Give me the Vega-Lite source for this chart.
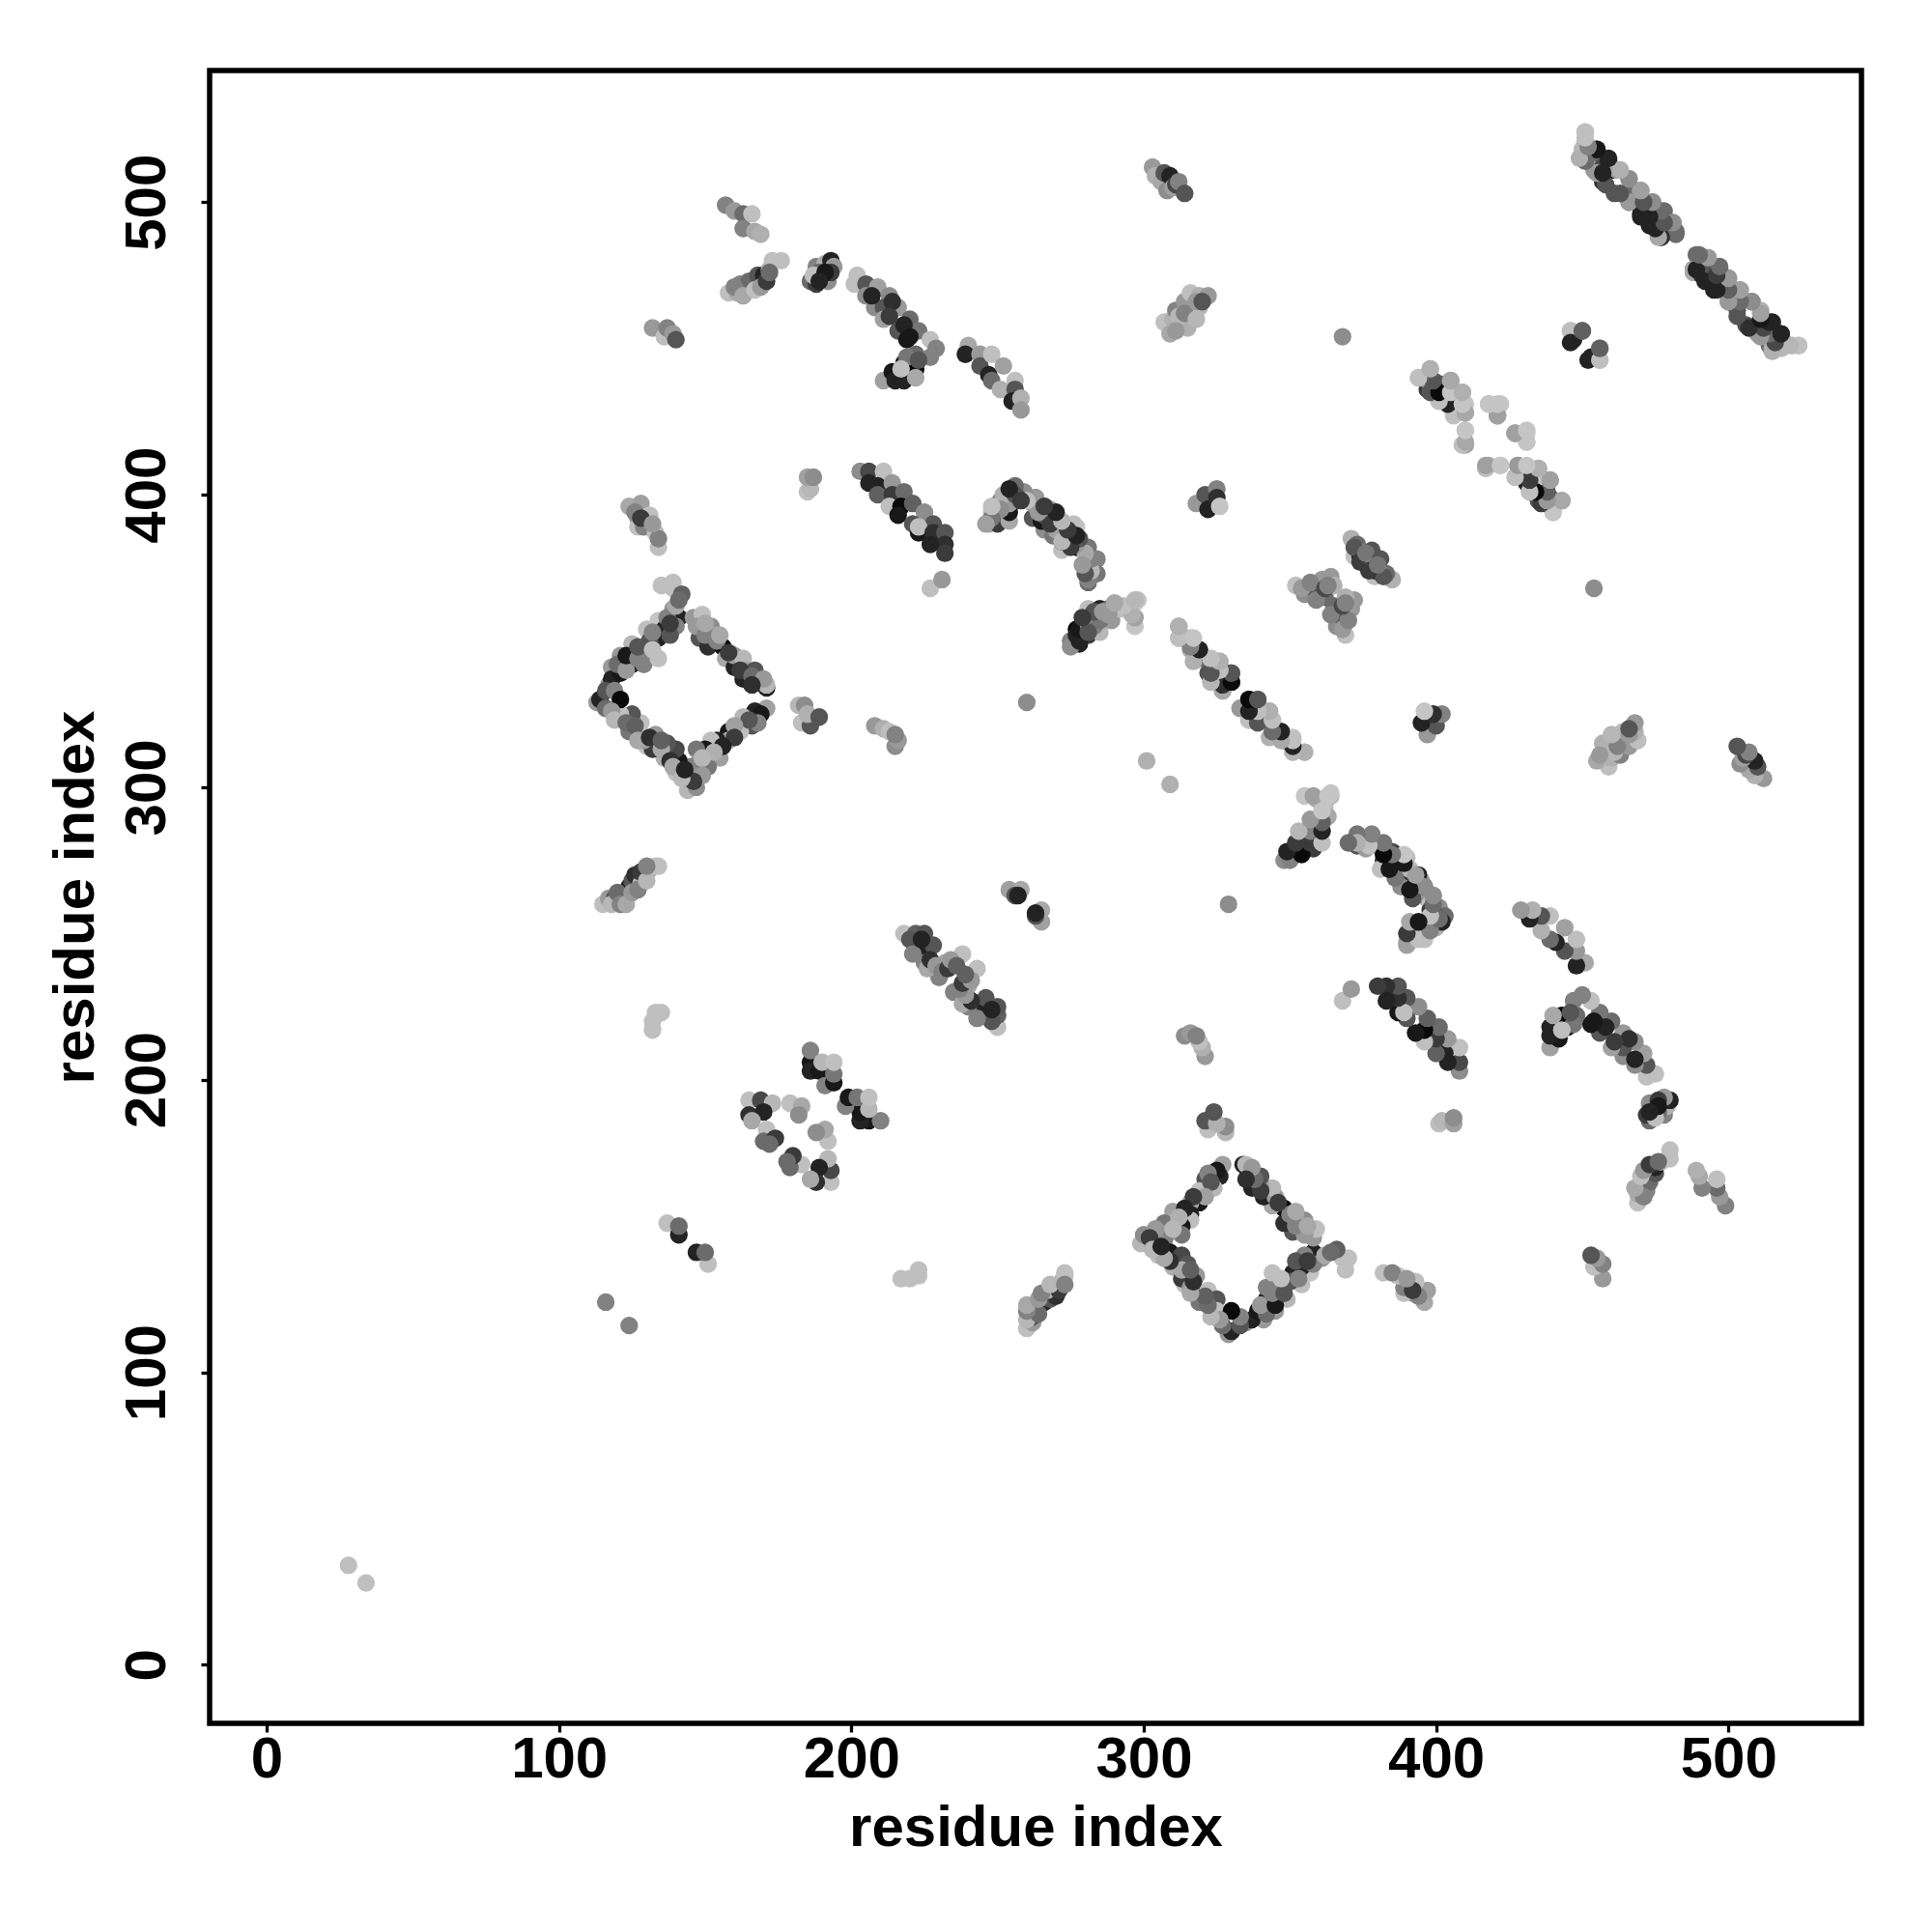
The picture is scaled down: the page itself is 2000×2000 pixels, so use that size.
{"$schema":"https://vega.github.io/schema/vega-lite/v6.json","width":1710,"height":1711,"autosize":"none","padding":{"left":217,"top":73,"right":73,"bottom":216},"background":"white",
"view":{"stroke":"#000","strokeWidth":5.5},
"config":{"font":"Liberation Sans"},
"datasets":{"contacts":[
{"i":28,"j":34,"s":0.85},{"i":116,"j":124,"s":0.5},
{"i":115,"j":260,"s":0.85},{"i":117,"j":262,"s":0.6},{"i":119,"j":262,"s":0.3},{"i":122,"j":261,"s":0.65},{"i":123,"j":263,"s":0.45},{"i":124,"j":266,"s":0.1},{"i":125,"j":268,"s":0.3},{"i":126,"j":270,"s":0.15},{"i":128,"j":267,"s":0.75},{"i":129,"j":271,"s":0.55},{"i":131,"j":272,"s":0.7},{"i":133,"j":273,"s":0.85},{"i":134,"j":273,"s":0.85},{"i":118,"j":260,"s":0.8},{"i":120,"j":264,"s":0.4},{"i":121,"j":260,"s":0.5},{"i":123,"j":260,"s":0.7},{"i":125,"j":264,"s":0.6},{"i":127,"j":265,"s":0.5},{"i":128,"j":271,"s":0.2},{"i":130,"j":268,"s":0.8},{"i":130,"j":273,"s":0.5},
{"i":132,"j":217,"s":0.85},{"i":132,"j":220,"s":0.85},{"i":133,"j":223,"s":0.85},{"i":135,"j":223,"s":0.85},
{"i":137,"j":151,"s":0.85},{"i":141,"j":147,"s":0.1},{"i":141,"j":150,"s":0.4},
{"i":113,"j":329,"s":0.6},{"i":114,"j":330,"s":0.1},{"i":116,"j":327,"s":0.4},{"i":117,"j":335,"s":0.6},{"i":118,"j":341,"s":0.6},{"i":118,"j":337,"s":0.1},{"i":121,"j":339,"s":0.05},{"i":121,"j":345,"s":0.6},{"i":125,"j":342,"s":0.05},{"i":125,"j":349,"s":0.8},{"i":129,"j":346,"s":0.1},{"i":129,"j":342,"s":0.5},{"i":130,"j":354,"s":0.85},{"i":134,"j":357,"s":0.9},{"i":134,"j":344,"s":0.85},{"i":134,"j":351,"s":0.1},{"i":136,"j":354,"s":0.1},{"i":139,"j":361,"s":0.6},{"i":141,"j":358,"s":0.1},{"i":140,"j":355,"s":0.5},{"i":135,"j":369,"s":0.85},{"i":139,"j":370,"s":0.85},{"i":139,"j":368,"s":0.85},{"i":142,"j":366,"s":0.35},
{"i":116,"j":333,"s":0.3},{"i":119,"j":333,"s":0.5},{"i":120,"j":342,"s":0.4},{"i":123,"j":340,"s":0.6},{"i":123,"j":345,"s":0.05},{"i":127,"j":344,"s":0.5},{"i":127,"j":348,"s":0.3},{"i":131,"j":350,"s":0.3},{"i":132,"j":347,"s":0.85},{"i":132,"j":353,"s":0.5},{"i":137,"j":358,"s":0.5},{"i":138,"j":352,"s":0.3},{"i":138,"j":356,"s":0.2},{"i":140,"j":362,"s":0.7},{"i":141,"j":364,"s":0.4},
{"i":146,"j":358,"s":0.6},{"i":149,"j":359,"s":0.85},{"i":148,"j":351,"s":0.3},{"i":152,"j":355,"s":0.55},{"i":153,"j":352,"s":0.65},{"i":151,"j":348,"s":0.15},{"i":156,"j":348,"s":0},{"i":157,"j":344,"s":0.7},{"i":160,"j":341,"s":0.1},{"i":160,"j":345,"s":0.6},{"i":163,"j":344,"s":0.8},{"i":163,"j":337,"s":0.1},{"i":164,"j":340,"s":0.65},{"i":167,"j":340,"s":0.3},{"i":168,"j":336,"s":0.85},{"i":171,"j":334,"s":0.1},{"i":171,"j":335,"s":0.8},
{"i":147,"j":355,"s":0.6},{"i":150,"j":352,"s":0.5},{"i":150,"j":356,"s":0.7},{"i":154,"j":350,"s":0.5},{"i":155,"j":352,"s":0.7},{"i":158,"j":346,"s":0.2},{"i":162,"j":340,"s":0.2},{"i":166,"j":338,"s":0.4},{"i":170,"j":337,"s":0.6},{"i":166,"j":335,"s":0.15},
{"i":171,"j":327,"s":0.65},{"i":167,"j":326,"s":0.1},{"i":169,"j":325,"s":0.05},{"i":166,"j":321,"s":0.3},{"i":163,"j":324,"s":0.8},{"i":162,"j":319,"s":0.85},{"i":158,"j":319,"s":0.05},{"i":158,"j":316,"s":0.7},{"i":154,"j":316,"s":0.1},{"i":152,"j":316,"s":0.85},{"i":155,"j":310,"s":0.65},{"i":150,"j":313,"s":0.05},{"i":147,"j":313,"s":0.45},{"i":151,"j":307,"s":0.45},{"i":148,"j":309,"s":0.6},{"i":145,"j":307,"s":0.5},{"i":144,"j":299,"s":0.8},{"i":147,"j":300,"s":0.55},
{"i":168,"j":322,"s":0.5},{"i":165,"j":323,"s":0.3},{"i":160,"j":321,"s":0.65},{"i":160,"j":317,"s":0.2},{"i":156,"j":314,"s":0.1},{"i":153,"j":312,"s":0.75},{"i":149,"j":310,"s":0.8},{"i":146,"j":304,"s":0.55},{"i":149,"j":304,"s":0.6},{"i":143,"j":303,"s":0.7},{"i":146,"j":302,"s":0.2},
{"i":140,"j":305,"s":0.85},{"i":141,"j":309,"s":0.05},{"i":136,"j":310,"s":0.75},{"i":140,"j":313,"s":0.25},{"i":137,"j":315,"s":0.3},{"i":130,"j":314,"s":0.85},{"i":133,"j":318,"s":0.6},{"i":132,"j":313,"s":0.2},{"i":127,"j":318,"s":0.5},{"i":128,"j":322,"s":0.85},{"i":129,"j":316,"s":0.6},{"i":124,"j":319,"s":0.45},{"i":125,"j":325,"s":0.3},{"i":121,"j":325,"s":0.85},{"i":121,"j":330,"s":0},
{"i":118,"j":326,"s":0.6},{"i":119,"j":323,"s":0.8},{"i":123,"j":322,"s":0.4},{"i":126,"j":321,"s":0.35},{"i":127,"j":316,"s":0.7},{"i":131,"j":317,"s":0.15},{"i":135,"j":313,"s":0.7},{"i":135,"j":316,"s":0.35},{"i":138,"j":309,"s":0.15},{"i":139,"j":307,"s":0.7},{"i":142,"j":303,"s":0.8},{"i":143,"j":306,"s":0.1},
{"i":182,"j":328,"s":0.8},{"i":184,"j":328,"s":0.55},{"i":183,"j":322,"s":0.85},{"i":186,"j":321,"s":0.3},{"i":185,"j":325,"s":0.75},{"i":189,"j":324,"s":0.3},
{"i":185,"j":401,"s":0.85},{"i":186,"j":402,"s":0.8},{"i":185,"j":406,"s":0.65},{"i":187,"j":406,"s":0.55},
{"i":157,"j":499,"s":0.5},{"i":160,"j":497,"s":0.6},{"i":163,"j":496,"s":0.4},{"i":163,"j":491,"s":0.5},{"i":167,"j":490,"s":0.7},{"i":169,"j":489,"s":0.75},{"i":166,"j":496,"s":0.85},
{"i":158,"j":469,"s":0.85},{"i":161,"j":469,"s":0.7},{"i":162,"j":472,"s":0.5},{"i":164,"j":470,"s":0.8},{"i":166,"j":472,"s":0.5},{"i":168,"j":473,"s":0.5},{"i":165,"j":473,"s":0.4},{"i":168,"j":475,"s":0.3},{"i":170,"j":475,"s":0.1},{"i":172,"j":477,"s":0.8},{"i":173,"j":480,"s":0.85},{"i":176,"j":480,"s":0.85},{"i":160,"j":471,"s":0.5},{"i":163,"j":468,"s":0.7},{"i":167,"j":470,"s":0.85},{"i":169,"j":471,"s":0.6},{"i":171,"j":473,"s":0.2},{"i":172,"j":476,"s":0.4},
{"i":132,"j":457,"s":0.6},{"i":136,"j":454,"s":0.85},{"i":137,"j":457,"s":0.5},{"i":139,"j":455,"s":0.6},{"i":140,"j":453,"s":0.3},
{"i":124,"j":396,"s":0.7},{"i":128,"j":397,"s":0.65},{"i":127,"j":392,"s":0.6},{"i":130,"j":391,"s":0.7},{"i":131,"j":393,"s":0.85},{"i":127,"j":389,"s":0.85},{"i":129,"j":389,"s":0.5},{"i":134,"j":382,"s":0.85},{"i":133,"j":387,"s":0.85},{"i":134,"j":385,"s":0.5},{"i":126,"j":394,"s":0.5},{"i":128,"j":392,"s":0.2},{"i":132,"j":390,"s":0.6},
{"i":186,"j":206,"s":0.05},{"i":186,"j":203,"s":0.1},{"i":186,"j":210,"s":0.5},{"i":189,"j":203,"s":0.05},{"i":190,"j":206,"s":0.8},{"i":191,"j":198,"s":0.5},{"i":194,"j":199,"s":0.05},{"i":194,"j":202,"s":0.45},{"i":194,"j":206,"s":0.85},
{"i":179,"j":192,"s":0.85},{"i":183,"j":191,"s":0.7},{"i":182,"j":188,"s":0.55},
{"i":165,"j":193,"s":0.85},{"i":169,"j":193,"s":0.25},{"i":173,"j":192,"s":0.8},{"i":165,"j":188,"s":0.15},{"i":170,"j":189,"s":0.1},{"i":166,"j":186,"s":0.7},{"i":171,"j":183,"s":0.85},{"i":170,"j":179,"s":0.4},{"i":174,"j":180,"s":0.2},{"i":172,"j":178,"s":0.4},
{"i":202,"j":475,"s":0.85},{"i":201,"j":472,"s":0.85},{"i":205,"j":472,"s":0.3},{"i":205,"j":468,"s":0.55},{"i":209,"j":471,"s":0.65},{"i":208,"j":464,"s":0.55},{"i":213,"j":468,"s":0.55},{"i":211,"j":464,"s":0.3},{"i":211,"j":460,"s":0.65},{"i":216,"j":464,"s":0.6},{"i":216,"j":456,"s":0.3},{"i":220,"j":460,"s":0.4},{"i":219,"j":453,"s":0.05},{"i":223,"j":456,"s":0.45},{"i":222,"j":448,"s":0.4},{"i":227,"j":447,"s":0.5},{"i":227,"j":453,"s":0.85},{"i":229,"j":450,"s":0.5},{"i":214,"j":466,"s":0.15},{"i":218,"j":458,"s":0.1},{"i":207,"j":468,"s":0.1},{"i":213,"j":461,"s":0.2},{"i":220,"j":454,"s":0.05},
{"i":211,"j":439,"s":0.65},{"i":214,"j":442,"s":0.05},{"i":215,"j":439,"s":0.1},{"i":218,"j":439,"s":0.1},{"i":218,"j":445,"s":0.05},{"i":222,"j":443,"s":0},{"i":222,"j":440,"s":0.7},{"i":219,"j":447,"s":0.45},{"i":223,"j":446,"s":0.3},{"i":217,"j":443,"s":0.85},
{"i":186,"j":473,"s":0.4},{"i":188,"j":472,"s":0.2},{"i":188,"j":478,"s":0.5},{"i":190,"j":475,"s":0.75},{"i":192,"j":473,"s":0.55},{"i":191,"j":479,"s":0.75},{"i":193,"j":480,"s":0.1},{"i":194,"j":478,"s":0.6},{"i":189,"j":476,"s":0.4},{"i":187,"j":475,"s":0.85},{"i":193,"j":476,"s":0.2},{"i":191,"j":476,"s":0.05},{"i":189,"j":473,"s":0.1},
{"i":240,"j":451,"s":0.7},{"i":239,"j":448,"s":0.1},{"i":244,"j":448,"s":0.6},{"i":244,"j":444,"s":0.3},{"i":248,"j":448,"s":0.85},{"i":247,"j":441,"s":0.1},{"i":252,"j":444,"s":0.65},{"i":248,"j":439,"s":0.4},{"i":251,"j":436,"s":0.75},{"i":256,"j":439,"s":0.85},{"i":256,"j":436,"s":0.3},{"i":255,"j":432,"s":0.1},{"i":258,"j":433,"s":0.75},{"i":258,"j":429,"s":0.6},
{"i":303,"j":512,"s":0.6},{"i":304,"j":509,"s":0.75},{"i":306,"j":507,"s":0.7},{"i":308,"j":504,"s":0.55},{"i":307,"j":510,"s":0.3},{"i":309,"j":509,"s":0.1},{"i":310,"j":505,"s":0.65},{"i":311,"j":506,"s":0.25},{"i":312,"j":507,"s":0.5},{"i":314,"j":503,"s":0.3},
{"i":307,"j":459,"s":0.85},{"i":309,"j":455,"s":0.7},{"i":310,"j":460,"s":0.75},{"i":311,"j":463,"s":0.5},{"i":313,"j":459,"s":0.7},{"i":315,"j":457,"s":0.75},{"i":316,"j":463,"s":0.6},{"i":314,"j":466,"s":0.6},{"i":316,"j":469,"s":0.85},{"i":317,"j":462,"s":0.65},{"i":319,"j":464,"s":0.8},{"i":319,"j":468,"s":0.75},{"i":322,"j":468,"s":0.6},{"i":312,"j":461,"s":0.8},{"i":314,"j":462,"s":0.5},{"i":318,"j":466,"s":0.6},{"i":320,"j":466,"s":0.3},{"i":311,"j":456,"s":0.6},{"i":318,"j":460,"s":0.8},
{"i":368,"j":454,"s":0.55},
{"i":447,"j":453,"s":0.1},{"i":446,"j":456,"s":0.85},{"i":450,"j":456,"s":0.35},{"i":456,"j":446,"s":0.85},{"i":452,"j":446,"s":0.1},{"i":456,"j":450,"s":0.35},
{"i":450,"j":518,"s":0.8},{"i":450,"j":515,"s":0.75},{"i":451,"j":524,"s":0.85},{"i":451,"j":521,"s":0.8},{"i":452,"j":516,"s":0.25},{"i":455,"j":514,"s":0.4},{"i":455,"j":518,"s":0.1},{"i":454,"j":511,"s":0.6},{"i":457,"j":512,"s":0.25},{"i":457,"j":507,"s":0.15},{"i":459,"j":514,"s":0.1},{"i":460,"j":511,"s":0.05},{"i":462,"j":511,"s":0.65},{"i":461,"j":503,"s":0.3},{"i":466,"j":508,"s":0.55},{"i":466,"j":504,"s":0.4},{"i":466,"j":500,"s":0.6},{"i":470,"j":504,"s":0.65},{"i":470,"j":500,"s":0.35},{"i":470,"j":496,"s":0.1},{"i":474,"j":500,"s":0.6},{"i":473,"j":492,"s":0.1},{"i":475,"j":496,"s":0.2},{"i":478,"j":497,"s":0.4},{"i":477,"j":488,"s":0.7},{"i":477,"j":489,"s":0.1},{"i":481,"j":493,"s":0.6},{"i":482,"j":490,"s":0.4},
{"i":489,"j":482,"s":0.4},{"i":493,"j":481,"s":0.55},{"i":488,"j":477,"s":0.15},{"i":488,"j":476,"s":0.7},{"i":491,"j":475,"s":0.1},{"i":493,"j":478,"s":0.3},{"i":497,"j":477,"s":0.4},{"i":495,"j":473,"s":0.1},{"i":495,"j":470,"s":0.1},{"i":500,"j":474,"s":0.55},{"i":500,"j":466,"s":0.6},{"i":500,"j":471,"s":0.3},{"i":504,"j":470,"s":0.65},{"i":503,"j":463,"s":0.3},{"i":508,"j":466,"s":0.55},{"i":506,"j":458,"s":0.3},{"i":511,"j":463,"s":0.75},{"i":510,"j":455,"s":0.6},{"i":510,"j":457,"s":0.1},{"i":515,"j":459,"s":0.1},{"i":518,"j":455,"s":0.05},{"i":514,"j":451,"s":0.4},{"i":515,"j":449,"s":0.75},{"i":519,"j":452,"s":0.5},{"i":522,"j":451,"s":0.85},{"i":524,"j":451,"s":0.85},
{"i":203,"j":408,"s":0.55},{"i":206,"j":408,"s":0.25},{"i":211,"j":408,"s":0.85},{"i":206,"j":404,"s":0.1},{"i":209,"j":403,"s":0.1},{"i":214,"j":404,"s":0.6},{"i":209,"j":400,"s":0.35},{"i":214,"j":400,"s":0.2},{"i":218,"j":401,"s":0.4},{"i":213,"j":396,"s":0.85},{"i":217,"j":396,"s":0},{"i":221,"j":397,"s":0.35},{"i":216,"j":393,"s":0.05},{"i":225,"j":394,"s":0.55},{"i":221,"j":390,"s":0.3},{"i":228,"j":390,"s":0.3},{"i":223,"j":387,"s":0.05},{"i":223,"j":389,"s":0.85},{"i":228,"j":387,"s":0.15},{"i":232,"j":387,"s":0.3},{"i":232,"j":383,"s":0.15},{"i":232,"j":380,"s":0.2},{"i":227,"j":383,"s":0.1},{"i":227,"j":368,"s":0.85},{"i":231,"j":371,"s":0.6},
{"i":247,"j":390,"s":0.65},{"i":248,"j":394,"s":0.85},{"i":250,"j":390,"s":0.2},{"i":251,"j":398,"s":0.5},{"i":254,"j":391,"s":0.7},{"i":255,"j":401,"s":0.4},{"i":256,"j":398,"s":0.85},{"i":254,"j":394,"s":0.05},{"i":260,"j":399,"s":0.4},{"i":263,"j":399,"s":0.55},{"i":262,"j":392,"s":0.3},{"i":266,"j":396,"s":0.55},{"i":266,"j":388,"s":0.55},{"i":265,"j":391,"s":0.05},{"i":270,"j":393,"s":0.65},{"i":269,"j":386,"s":0.45},{"i":272,"j":381,"s":0.85},{"i":274,"j":389,"s":0.05},{"i":272,"j":384,"s":0.05},{"i":277,"j":389,"s":0.9},{"i":277,"j":385,"s":0.45},{"i":277,"j":382,"s":0},{"i":281,"j":382,"s":0.45},{"i":280,"j":377,"s":0.85},{"i":284,"j":378,"s":0.5},{"i":284,"j":373,"s":0.45},{"i":281,"j":373,"s":0.75},{"i":281,"j":370,"s":0.4},
{"i":275,"j":350,"s":0.5},{"i":277,"j":354,"s":0},{"i":278,"j":349,"s":0.1},{"i":281,"j":357,"s":0.2},{"i":281,"j":352,"s":0.2},{"i":281,"j":361,"s":0.85},{"i":285,"j":357,"s":0.5},{"i":285,"j":353,"s":0.8},{"i":285,"j":361,"s":0.1},{"i":288,"j":361,"s":0.35},{"i":289,"j":357,"s":0.6},{"i":292,"j":361,"s":0.9},{"i":297,"j":355,"s":0.9},{"i":297,"j":358,"s":0.65},{"i":297,"j":363,"s":0.9},{"i":298,"j":364,"s":0.9},
{"i":312,"j":355,"s":0.75},{"i":312,"j":351,"s":0.8},{"i":314,"j":351,"s":0.1},{"i":316,"j":351,"s":0.85},{"i":316,"j":347,"s":0.7},{"i":319,"j":347,"s":0.1},{"i":319,"j":344,"s":0.4},{"i":323,"j":336,"s":0.85},{"i":322,"j":339,"s":0.3},{"i":323,"j":344,"s":0.85},{"i":326,"j":343,"s":0.75},{"i":326,"j":339,"s":0.85},{"i":327,"j":333,"s":0.6},{"i":326,"j":336,"s":0.1},{"i":330,"j":336,"s":0},{"i":330,"j":339,"s":0.3},
{"i":333,"j":327,"s":0.7},{"i":335,"j":327,"s":0.15},{"i":336,"j":330,"s":0},{"i":336,"j":323,"s":0.8},{"i":339,"j":330,"s":0.3},{"i":340,"j":326,"s":0.85},{"i":339,"j":323,"s":0.3},{"i":343,"j":326,"s":0.75},{"i":343,"j":317,"s":0.75},{"i":344,"j":323,"s":0.85},{"i":347,"j":319,"s":0.1},{"i":348,"j":316,"s":0.5},{"i":351,"j":312,"s":0.85},{"i":351,"j":317,"s":0.9},{"i":355,"j":312,"s":0.75},
{"i":260,"j":329,"s":0.55},{"i":301,"j":309,"s":0.75},
{"i":348,"j":275,"s":0.55},{"i":350,"j":278,"s":0.1},{"i":352,"j":277,"s":0.1},{"i":354,"j":278,"s":0.05},{"i":356,"j":281,"s":0.7},{"i":355,"j":283,"s":0.5},{"i":358,"j":282,"s":0.5},{"i":357,"j":285,"s":0.45},{"i":360,"j":283,"s":0.3},{"i":360,"j":286,"s":0.6},{"i":361,"j":291,"s":0.85},{"i":359,"j":296,"s":0.75},{"i":361,"j":295,"s":0.75},{"i":362,"j":293,"s":0.85},{"i":364,"j":297,"s":0.8},{"i":353,"j":281,"s":0.3},{"i":358,"j":279,"s":0.2},{"i":359,"j":288,"s":0.6},{"i":363,"j":290,"s":0.7},
{"i":371,"j":281,"s":0.5},{"i":374,"j":282,"s":0.8},{"i":378,"j":282,"s":0.5},{"i":380,"j":280,"s":0.7},{"i":383,"j":277,"s":0.6},{"i":385,"j":278,"s":0.3},{"i":386,"j":273,"s":0.55},{"i":388,"j":270,"s":0.65},{"i":390,"j":276,"s":0.85},{"i":392,"j":270,"s":0.5},{"i":393,"j":266,"s":0.3},{"i":395,"j":268,"s":0.7},{"i":397,"j":262,"s":0.6},{"i":399,"j":263,"s":0.6},{"i":401,"j":259,"s":0.55},{"i":399,"j":257,"s":0.3},{"i":403,"j":256,"s":0.4},{"i":397,"j":254,"s":0.6},{"i":400,"j":252,"s":0.75},{"i":395,"j":251,"s":0.55},{"i":392,"j":248,"s":0.45},{"i":390,"j":246,"s":0.65},{"i":396,"j":248,"s":0.85},{"i":373,"j":280,"s":0.3},{"i":376,"j":279,"s":0.6},{"i":382,"j":275,"s":0.2},{"i":384,"j":272,"s":0.8},{"i":386,"j":277,"s":0.1},{"i":388,"j":274,"s":0.2},{"i":390,"j":268,"s":0.2},{"i":391,"j":272,"s":0.8},{"i":394,"j":264,"s":0.6},{"i":394,"j":270,"s":0.1},{"i":396,"j":266,"s":0.2},{"i":398,"j":260,"s":0.85},{"i":400,"j":256,"s":0.3},{"i":402,"j":254,"s":0.1},{"i":398,"j":258,"s":0.2},
{"i":371,"j":385,"s":0.75},{"i":373,"j":383,"s":0.4},{"i":373,"j":381,"s":0.6},{"i":372,"j":379,"s":0.85},{"i":375,"j":378,"s":0.5},{"i":374,"j":379,"s":0.1},{"i":378,"j":381,"s":0.3},{"i":372,"j":382,"s":0.3},{"i":374,"j":377,"s":0.2},{"i":376,"j":380,"s":0.45},
{"i":352,"j":369,"s":0.85},{"i":355,"j":366,"s":0.55},{"i":358,"j":368,"s":0.35},{"i":360,"j":365,"s":0.3},{"i":361,"j":371,"s":0.6},{"i":362,"j":365,"s":0.4},{"i":364,"j":372,"s":0.6},{"i":365,"j":369,"s":0.75},{"i":354,"j":368,"s":0.6},{"i":357,"j":370,"s":0.5},{"i":359,"j":364,"s":0.5},{"i":362,"j":368,"s":0.25},{"i":363,"j":369,"s":0.5},
{"i":318,"j":397,"s":0.6},{"i":321,"j":400,"s":0.3},{"i":322,"j":395,"s":0.1},{"i":325,"j":402,"s":0.5},{"i":325,"j":399,"s":0.15},{"i":326,"j":396,"s":0.9},
{"i":394,"j":440,"s":0.9},{"i":398,"j":443,"s":0.7},{"i":397,"j":436,"s":0.2},{"i":398,"j":438,"s":0.6},{"i":401,"j":438,"s":0.35},{"i":401,"j":434,"s":0},{"i":401,"j":432,"s":0.85},{"i":405,"j":439,"s":0.65},{"i":405,"j":432,"s":0.2},{"i":406,"j":427,"s":0.85},{"i":409,"j":435,"s":0.75},{"i":410,"j":428,"s":0.6},{"i":410,"j":431,"s":0.9},{"i":409,"j":417,"s":0.85},{"i":410,"j":417,"s":0.65},{"i":410,"j":422,"s":0.9},
{"i":418,"j":431,"s":0.9},{"i":421,"j":427,"s":0.65},{"i":422,"j":431,"s":0.9},{"i":427,"j":421,"s":0.65},{"i":431,"j":418,"s":0.9},{"i":431,"j":421,"s":0.9},{"i":417,"j":409,"s":0.85},{"i":418,"j":410,"s":0.7},{"i":422,"j":410,"s":0.9},
{"i":428,"j":406,"s":0.85},{"i":428,"j":410,"s":0.7},{"i":431,"j":404,"s":0.1},{"i":431,"j":409,"s":0.9},{"i":432,"j":401,"s":0.85},{"i":435,"j":398,"s":0.3},{"i":435,"j":401,"s":0},{"i":435,"j":405,"s":0.9},{"i":435,"j":409,"s":0.75},{"i":439,"j":399,"s":0.3},{"i":439,"j":405,"s":0.7},{"i":440,"j":394,"s":0.85},{"i":443,"j":398,"s":0.75},
{"i":254,"j":265,"s":0.65},{"i":258,"j":265,"s":0.7},{"i":256,"j":263,"s":0.3},{"i":257,"j":263,"s":0.1},
{"i":218,"j":250,"s":0.85},{"i":222,"j":250,"s":0.35},{"i":225,"j":250,"s":0.3},{"i":223,"j":245,"s":0.1},{"i":226,"j":243,"s":0.1},{"i":228,"j":246,"s":0.3},{"i":225,"j":240,"s":0.5},{"i":228,"j":238,"s":0.6},{"i":230,"j":236,"s":0.25},{"i":232,"j":240,"s":0.7},{"i":238,"j":243,"s":0.85},{"i":230,"j":235,"s":0.5},{"i":220,"j":248,"s":0.3},{"i":221,"j":243,"s":0.5},{"i":224,"j":248,"s":0.1},{"i":226,"j":238,"s":0.7},{"i":227,"j":241,"s":0.15},{"i":229,"j":239,"s":0.6},{"i":231,"j":237,"s":0.5},{"i":233,"j":238,"s":0.2},{"i":234,"j":241,"s":0.6},{"i":236,"j":239,"s":0.35},
{"i":208,"j":321,"s":0.6},{"i":211,"j":320,"s":0.75},{"i":213,"j":319,"s":0.85},{"i":215,"j":314,"s":0.55},{"i":216,"j":316,"s":0.6},{"i":215,"j":318,"s":0.5}
]},
"layer":[
{"data":{"name":"contacts"},"mark":{"type":"circle","size":335,"opacity":1},"encoding":{
"x":{"field":"i","type":"quantitative","scale":{"domain":[-19.5,545.5],"nice":false,"zero":false},"axis":{"values":[0,100,200,300,400,500],"grid":false,"domain":false,"tickSize":9,"tickWidth":3.3,"tickColor":"#000","labelFont":"Liberation Sans","labelFontWeight":"bold","labelFontSize":60,"labelColor":"#000","labelPadding":-1,"labelFlush":false,"labelOverlap":false,"title":"residue index","titleFont":"Liberation Sans","titleFontWeight":"bold","titleFontSize":60,"titleColor":"#000","titlePadding":12}},
"y":{"field":"j","type":"quantitative","scale":{"domain":[-20,545],"nice":false,"zero":false},"axis":{"values":[0,100,200,300,400,500],"grid":false,"domain":false,"tickSize":9,"tickWidth":3.3,"tickColor":"#000","labelFont":"Liberation Sans","labelFontWeight":"bold","labelFontSize":60,"labelColor":"#000","labelAngle":-90,"labelAlign":"center","labelBaseline":"alphabetic","labelPadding":38,"labelFlush":false,"labelOverlap":false,"title":"residue index","titleFont":"Liberation Sans","titleFontWeight":"bold","titleFontSize":60,"titleColor":"#000","titlePadding":13}},
"color":{"field":"s","type":"quantitative","scale":{"domain":[0,0.3,0.6,0.85,1],"range":["#0a0a0a","#555555","#999999","#bfbfbf","#d0d0d0"]},"legend":null},
"order":[{"field":"i"},{"field":"j"}]}},
{"data":{"name":"contacts"},"mark":{"type":"circle","size":335,"opacity":1},"encoding":{
"x":{"field":"j","type":"quantitative"},
"y":{"field":"i","type":"quantitative"},
"color":{"field":"s","type":"quantitative","legend":null},
"order":[{"field":"j"},{"field":"i"}]}}
]}
